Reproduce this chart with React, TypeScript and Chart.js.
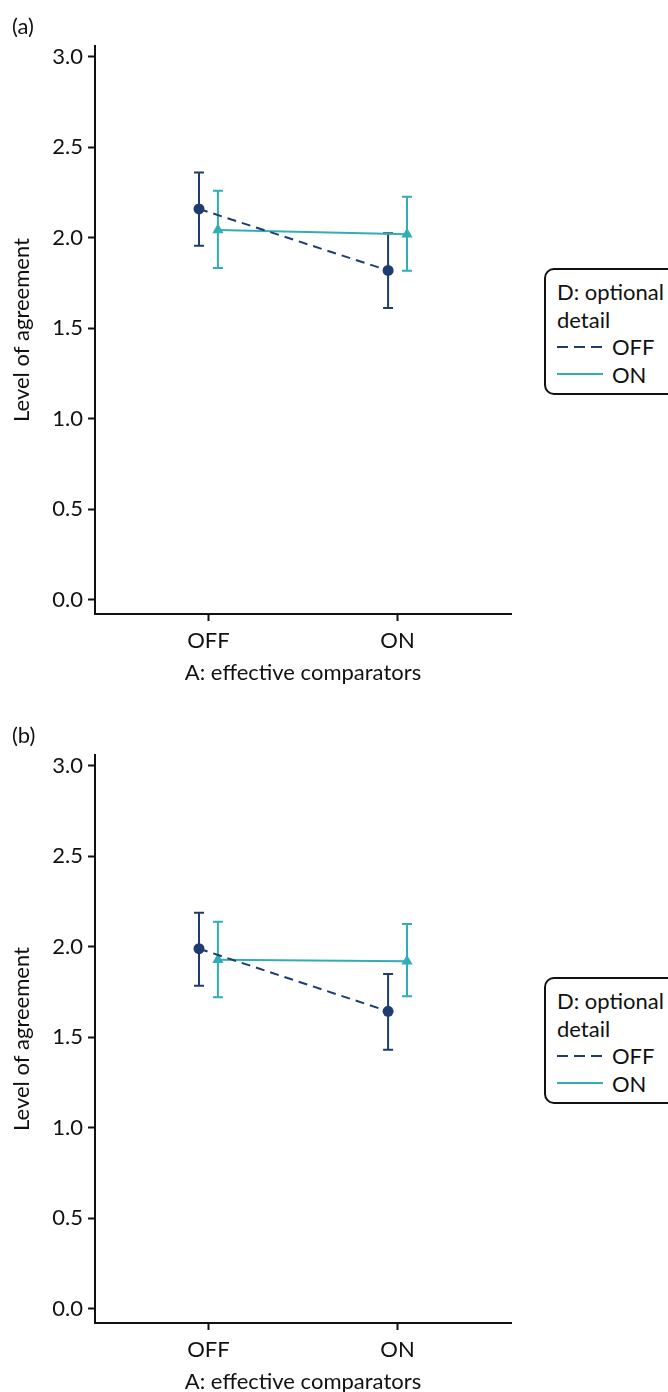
import React, { useEffect, useRef } from "react";
import { Chart, registerables } from "chart.js";

Chart.register(...registerables);

// ---------- data ----------
const categories = ["OFF", "ON"];
const seriesNames = ["OFF", "ON"];
const yTickValues = [0, 0.5, 1, 1.5, 2, 2.5, 3];

// Panel (a)
const aOffMean = [2.16, 1.82];
const aOffLow = [1.956, 1.612];
const aOffHigh = [2.361, 2.026];
const aOnMean = [2.044, 2.02];
const aOnLow = [1.834, 1.819];
const aOnHigh = [2.26, 2.227];

// Panel (b)
const bOffMean = [1.99, 1.644];
const bOffLow = [1.785, 1.431];
const bOffHigh = [2.188, 1.85];
const bOnMean = [1.929, 1.92];
const bOnLow = [1.721, 1.727];
const bOnHigh = [2.139, 2.127];

// ---------- styling ----------
const NAVY = "#1e3c6f";
const TEAL = "#31aeb5";
const FONT = "Lato";
const FS = 22;
const DODGE = 0.05;
const W = 668;
const H = 696;

const errorBarPlugin = {
  id: "errorBars",
  beforeDatasetsDraw(chart: any) {
    const { ctx, scales } = chart;
    const x = scales.x;
    const y = scales.y;
    chart.data.datasets.forEach((ds: any) => {
      ctx.save();
      ctx.strokeStyle = ds.borderColor;
      ctx.lineWidth = 2;
      ctx.setLineDash([]);
      ds.data.forEach((p: any) => {
        const px = x.getPixelForValue(p.x);
        const yl = y.getPixelForValue(p.low);
        const yh = y.getPixelForValue(p.high);
        ctx.beginPath();
        ctx.moveTo(px, yl);
        ctx.lineTo(px, yh);
        ctx.moveTo(px - 5, yl);
        ctx.lineTo(px + 5, yl);
        ctx.moveTo(px - 5, yh);
        ctx.lineTo(px + 5, yh);
        ctx.stroke();
      });
      ctx.restore();
    });
  },
};

function buildPoints(mean: number[], low: number[], high: number[], shift: number) {
  return mean.map((m, i) => ({ x: i + 1 + shift, y: m, low: low[i], high: high[i] }));
}

function Panel(props: {
  label: string;
  top: number;
  offMean: number[];
  offLow: number[];
  offHigh: number[];
  onMean: number[];
  onLow: number[];
  onHigh: number[];
}) {
  const ref = useRef<HTMLCanvasElement | null>(null);
  useEffect(() => {
    if (!ref.current) return;
    const chart = new Chart(ref.current, {
      type: "line",
      data: {
        datasets: [
          {
            label: seriesNames[0],
            data: buildPoints(props.offMean, props.offLow, props.offHigh, -DODGE),
            borderColor: NAVY,
            backgroundColor: NAVY,
            borderWidth: 2,
            borderDash: [9, 6],
            pointStyle: "circle",
            pointRadius: 5.5,
            pointBorderWidth: 0,
            pointBackgroundColor: NAVY,
          },
          {
            label: seriesNames[1],
            data: buildPoints(props.onMean, props.onLow, props.onHigh, DODGE),
            borderColor: TEAL,
            backgroundColor: TEAL,
            borderWidth: 2,
            pointStyle: "triangle",
            pointRadius: 6.5,
            pointBorderWidth: 0,
            pointBackgroundColor: TEAL,
          },
        ] as any,
      },
      options: {
        animation: false,
        responsive: false,
        devicePixelRatio: 1,
        layout: { padding: { top: 46, right: 157, left: 0, bottom: 0 } },
        plugins: {
          legend: { display: false },
          tooltip: { enabled: false },
        },
        scales: {
          x: {
            type: "linear",
            min: 0.4,
            max: 2.6,
            afterBuildTicks: (axis: any) => {
              axis.ticks = categories.map((_, i) => ({ value: i + 1 }));
            },
            afterFit: (axis: any) => {
              axis.height = 82;
            },
            ticks: {
              callback: (v: any) => categories[Math.round(v) - 1] ?? "",
              color: "#111",
              font: { family: FONT, size: FS },
              padding: 7,
              maxRotation: 0,
            },
            grid: {
              drawOnChartArea: false,
              drawTicks: true,
              tickLength: 7,
              tickWidth: 2,
              tickColor: "#111",
            },
            border: { display: true, color: "#111", width: 2 },
            title: {
              display: true,
              text: "A: effective comparators",
              color: "#111",
              font: { family: FONT, size: FS },
              padding: { top: 0, bottom: 10 },
            },
          },
          y: {
            type: "linear",
            min: -0.078,
            max: 3.06,
            afterBuildTicks: (axis: any) => {
              axis.ticks = yTickValues.map((v) => ({ value: v }));
            },
            afterFit: (axis: any) => {
              axis.width = 95;
            },
            ticks: {
              callback: (v: any) => Number(v).toFixed(1),
              color: "#111",
              font: { family: FONT, size: FS },
              padding: 5,
            },
            grid: {
              drawOnChartArea: false,
              drawTicks: true,
              tickLength: 7,
              tickWidth: 2,
              tickColor: "#111",
            },
            border: { display: true, color: "#111", width: 2 },
            title: {
              display: true,
              text: "Level of agreement",
              color: "#111",
              font: { family: FONT, size: FS },
              padding: { top: 9, bottom: 0 },
            },
          },
        },
      } as any,
      plugins: [errorBarPlugin],
    });
    return () => chart.destroy();
  }, []);

  return (
    <div style={{ position: "absolute", left: 0, top: props.top, width: W, height: H }}>
      <canvas ref={ref} width={W} height={H} style={{ display: "block", width: W, height: H }} />
      <div
        style={{
          position: "absolute",
          left: 12,
          top: 12,
          font: `${FS}px ${FONT}`,
          color: "#111",
        }}
      >
        {props.label}
      </div>
      <div
        style={{
          position: "absolute",
          left: 544,
          top: 268,
          width: 150,
          boxSizing: "border-box",
          border: "2px solid #111",
          borderRadius: 10,
          padding: "8px 0 5px 11px",
          font: `${FS}px ${FONT}`,
          lineHeight: "27.5px",
          color: "#111",
          background: "#fff",
        }}
      >
        <div>D: optional</div>
        <div>detail</div>
        <div style={{ display: "flex", alignItems: "center" }}>
          <svg width={46} height={4} style={{ display: "block" }}>
            <line x1={0} y1={2} x2={46} y2={2} stroke={NAVY} strokeWidth={2} strokeDasharray="11 6" />
          </svg>
          <span style={{ marginLeft: 9 }}>{seriesNames[0]}</span>
        </div>
        <div style={{ display: "flex", alignItems: "center" }}>
          <svg width={46} height={4} style={{ display: "block" }}>
            <line x1={0} y1={2} x2={46} y2={2} stroke={TEAL} strokeWidth={2} />
          </svg>
          <span style={{ marginLeft: 9 }}>{seriesNames[1]}</span>
        </div>
      </div>
    </div>
  );
}

export default function App() {
  return (
    <div
      style={{
        position: "absolute",
        left: 0,
        top: 0,
        width: W,
        height: 1392,
        overflow: "hidden",
        background: "#fff",
      }}
    >
      <Panel
        label="(a)"
        top={0}
        offMean={aOffMean}
        offLow={aOffLow}
        offHigh={aOffHigh}
        onMean={aOnMean}
        onLow={aOnLow}
        onHigh={aOnHigh}
      />
      <Panel
        label="(b)"
        top={709}
        offMean={bOffMean}
        offLow={bOffLow}
        offHigh={bOffHigh}
        onMean={bOnMean}
        onLow={bOnLow}
        onHigh={bOnHigh}
      />
    </div>
  );
}
